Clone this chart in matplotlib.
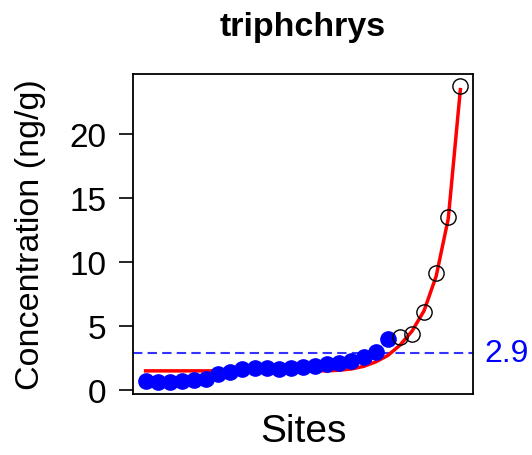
import matplotlib
matplotlib.use('Agg')
import matplotlib.pyplot as plt
import matplotlib.transforms as mtransforms

plt.rcParams['font.family'] = ['Liberation Sans', 'DejaVu Sans']

# sites ranked by concentration (ng/g)
conc_low = [0.73, 0.65, 0.65, 0.7, 0.8, 0.85, 1.25, 1.4, 1.65, 1.7, 1.7,
            1.65, 1.7, 1.8, 1.9, 2.0, 2.15, 2.3, 2.55, 2.95, 4.0]
conc_high = [4.15, 4.38, 6.1, 9.15, 13.5, 23.8]
# fitted curve read at each site
fit_vals = [1.5, 1.5, 1.5, 1.5, 1.5, 1.5, 1.5, 1.5, 1.5, 1.5, 1.5, 1.5,
            1.5, 1.5, 1.5, 1.5, 1.55, 1.65, 1.85, 2.2, 2.7, 3.5, 4.6,
            6.2, 8.9, 13.4, 23.5]
threshold = 2.9
title = 'triphchrys'

n_low = len(conc_low)
x_low = list(range(1, n_low + 1))
x_high = list(range(n_low + 1, n_low + len(conc_high) + 1))
x_fit = list(range(1, len(fit_vals) + 1))

fig = plt.figure(figsize=(5.32, 4.56), dpi=100)
ax = fig.add_axes([0.25, 0.1347, 0.639, 0.701])

ax.plot(x_fit, fit_vals, color='red', lw=2.5, zorder=2)
ax.plot(x_low, conc_low, 'o', color='blue', ms=11, zorder=3)
ax.plot(x_high, conc_high, 'o', mfc='none', mec='black', mew=1.0, ms=11, zorder=3)
ax.axhline(threshold, color='blue', lw=1.5, ls=(0, (4.5, 2.5)), zorder=1, alpha=0.8)

trans = mtransforms.blended_transform_factory(ax.transAxes, ax.transData)
ax.text(1.035, threshold, str(threshold), transform=trans, color='blue',
        fontsize=23, va='center', ha='left', clip_on=False)

n = len(fit_vals)
pad_x = (n - 1) * 0.04
ax.set_xlim(1 - pad_x, n + pad_x)
ymin, ymax = min(conc_low), max(conc_high)
pad_y = (ymax - ymin) * 0.04
ax.set_ylim(ymin - pad_y, ymax + pad_y)

ax.set_xticks([])
ax.set_yticks([0, 5, 10, 15, 20])
ax.tick_params(axis='y', labelsize=24, length=10, width=1.2, pad=9)
for s in ax.spines.values():
    s.set_linewidth(1.3)

ax.set_title(title, fontsize=24.5, fontweight='bold', pad=28)
ax.set_xlabel('Sites', fontsize=28, labelpad=14)
ax.set_ylabel('Concentration (ng/g)', fontsize=24.5, labelpad=17)

plt.savefig('out.png', dpi=100)
